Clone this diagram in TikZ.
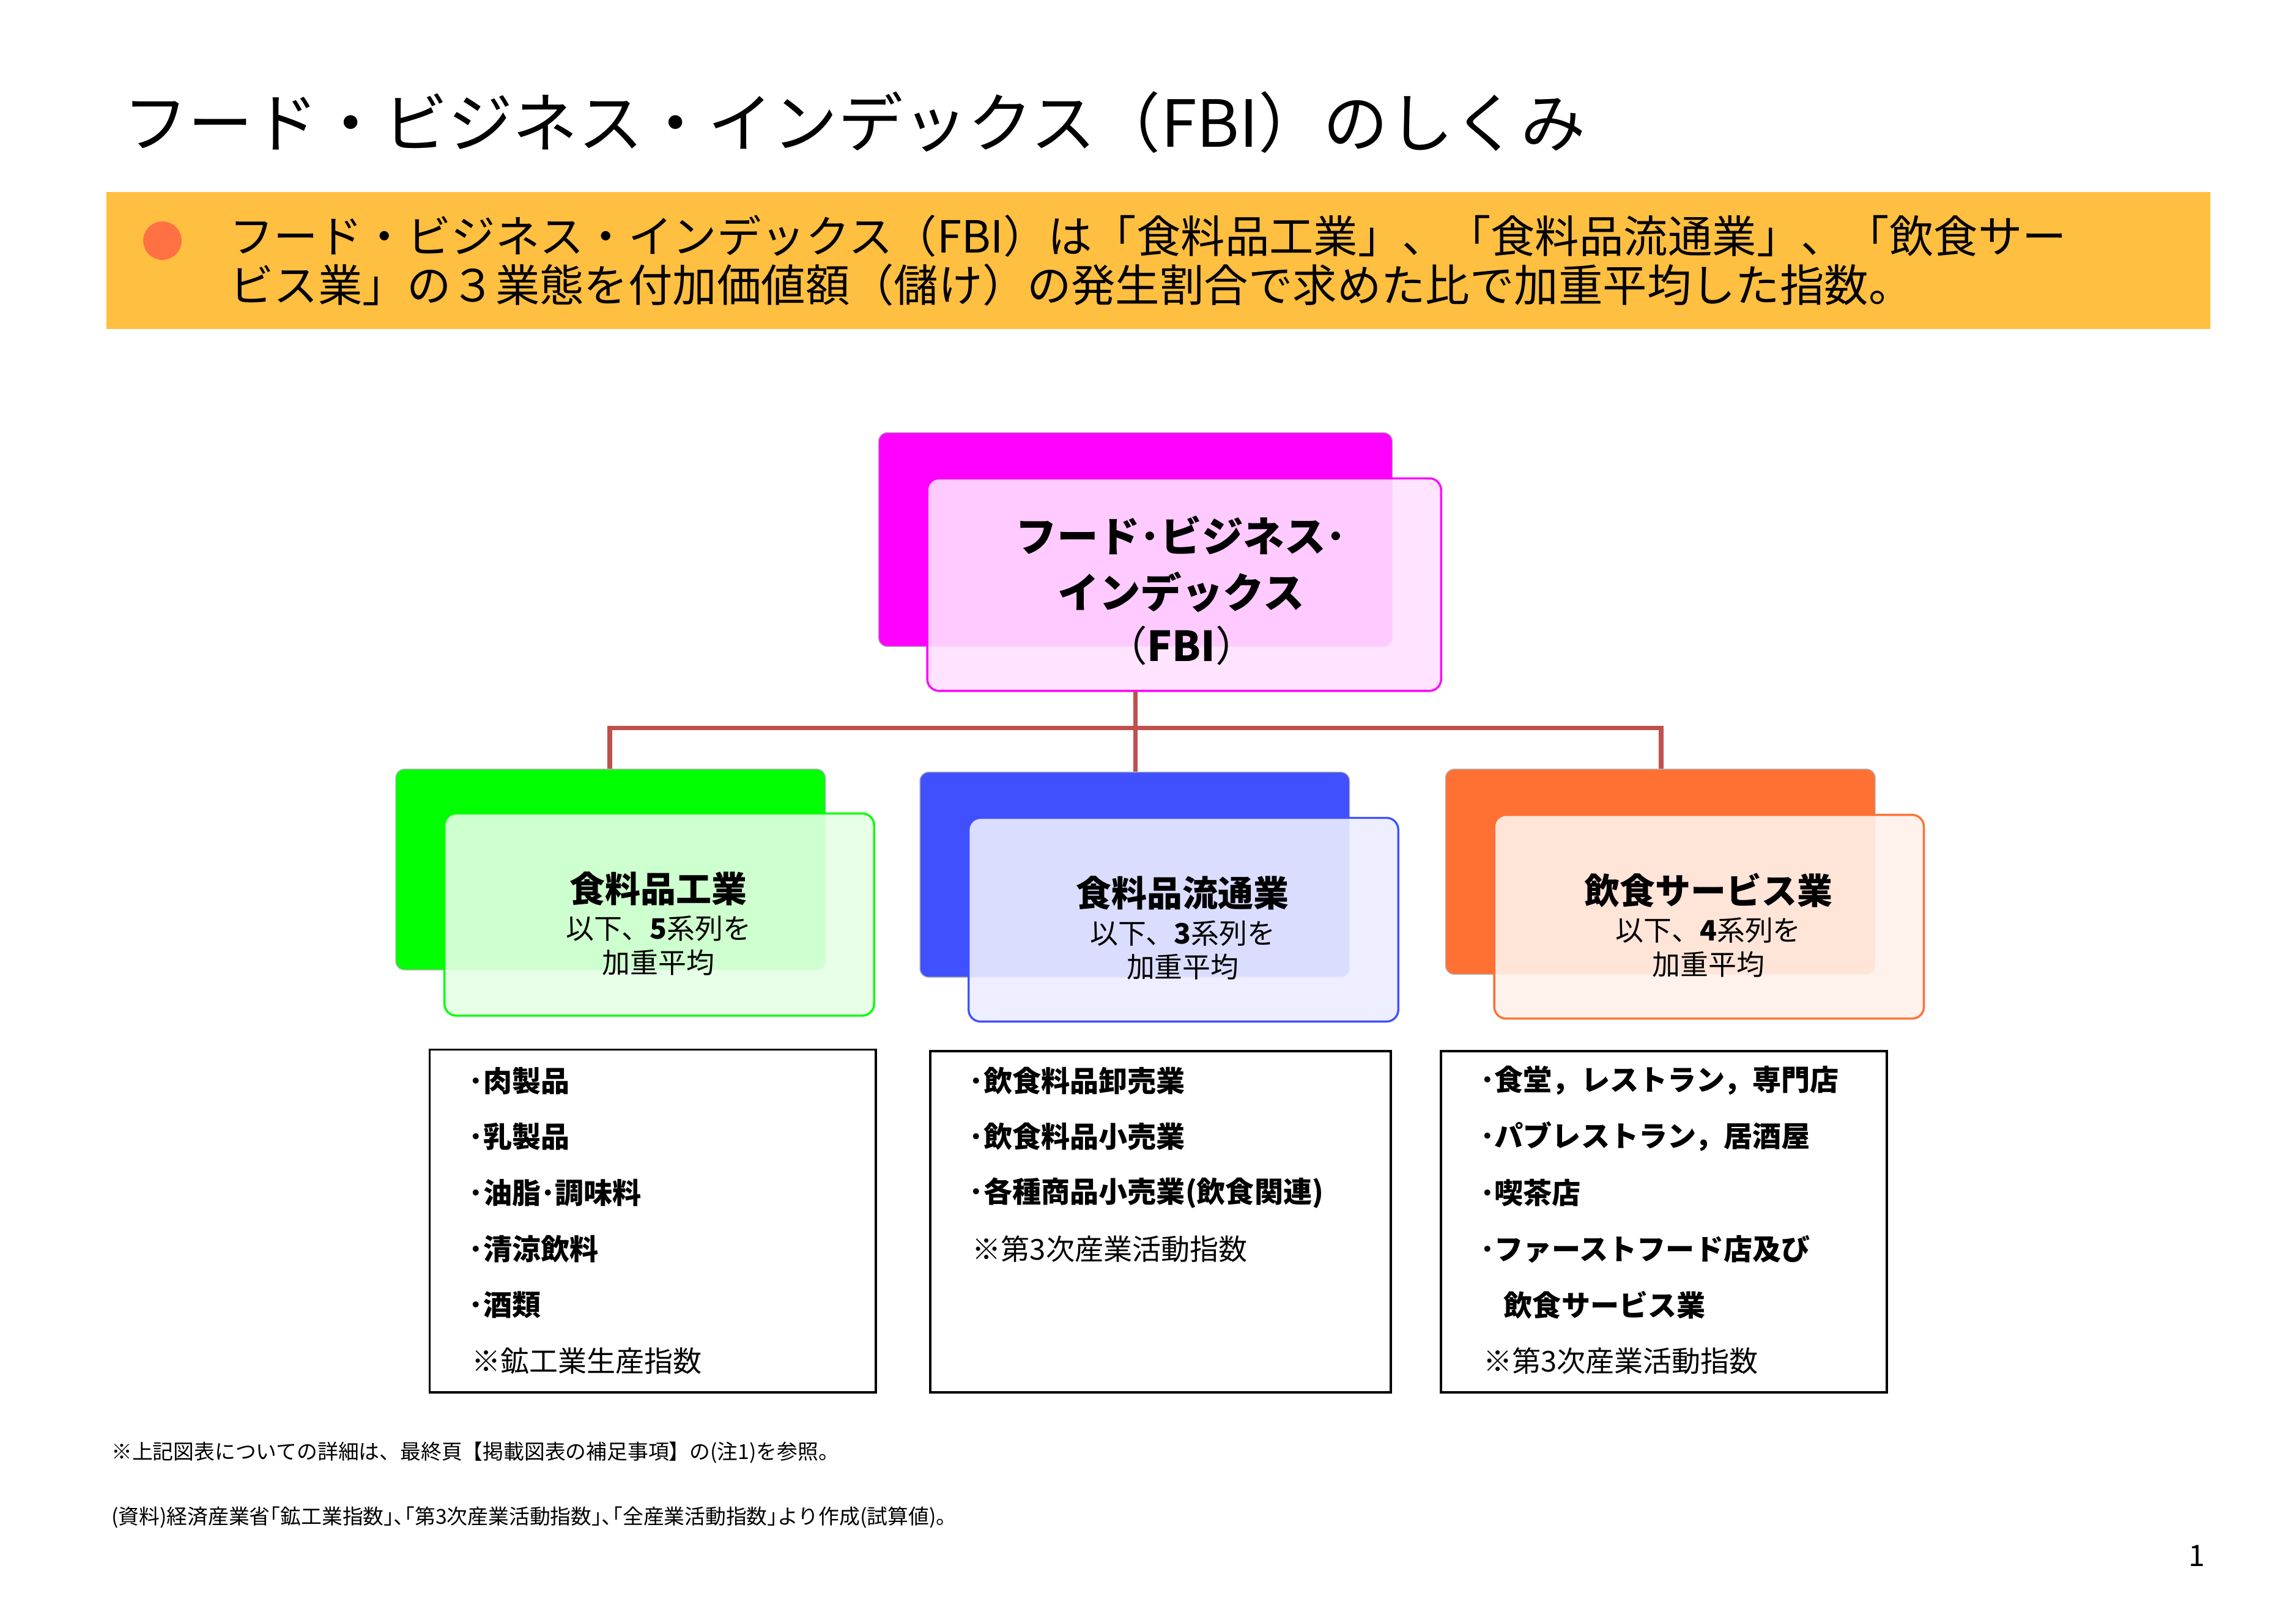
\documentclass[tikz,border=0pt]{standalone}
\usepackage{fontspec}
\setmainfont{Noto Sans CJK JP}
\usetikzlibrary{positioning, calc}
\definecolor{bandorange}{HTML}{FFBF40}
\definecolor{dotorange}{HTML}{FF7043}
\definecolor{linkred}{HTML}{C0504D}
\definecolor{fbimag}{HTML}{FF00FF}
\definecolor{makegreen}{HTML}{00FF00}
\definecolor{distblue}{HTML}{4050FF}
\definecolor{servorange}{HTML}{FF7033}
\begin{document}
\begin{tikzpicture}[x=1pt, y=-1pt,
        backbox/.style={rounded corners=6pt, draw=gray!60, line width=0.6pt},
        frontbox/.style={rounded corners=8pt, line width=1.4pt},
        headtxt/.style={font=\fontsize{24}{28}\selectfont\bfseries, align=center},
        subtxt/.style={font=\fontsize{19}{23}\selectfont, align=center},
        listbox/.style={draw=black, line width=1.6pt},
        item/.style={anchor=west, font=\fontsize{19.5}{22}\selectfont\bfseries},
        note/.style={anchor=west, font=\fontsize{14}{16}\selectfont}
    ]
        \useasboundingbox (0,0) rectangle (1555,1096);
        \fill[white] (0,0) rectangle (1555,1096);

        % title and band
        \node[anchor=west, font=\fontsize{44}{50}\selectfont] (title) at (80,83) {フード・ビジネス・インデックス（FBI）のしくみ};
        \fill[bandorange] (72,130) rectangle (1497,223);
        \fill[dotorange] (110,163) circle (13);
        \node[anchor=west, font=\fontsize{30}{34}\selectfont] (band1) at (152,160) {フード・ビジネス・インデックス（FBI）は「食料品工業」、「食料品流通業」、「飲食サー};
        \node[anchor=west, font=\fontsize{30}{34}\selectfont] (band2) at (152,193) {ビス業」の３業態を付加価値額（儲け）の発生割合で求めた比で加重平均した指数。};

        % top box
        \fill[fbimag, backbox] (595,293) rectangle (943,438);
        \filldraw[fill=fbimag!12, fill opacity=0.9, draw=fbimag, frontbox] (628,324) rectangle (976,468);
        \coordinate (fbi-s) at (769,468);
        \node[headtxt, font=\fontsize{28}{34}\selectfont\bfseries] (fbi) at (800,400) {フード･ビジネス･\\[4pt]インデックス\\[2pt]\mdseries（\textbf{FBI}）};

        % connectors
        \coordinate (bus) at (769,493);
        \coordinate (make-n) at (413,521);
        \coordinate (dist-n) at (769,523);
        \coordinate (serv-n) at (1125,521);
        \draw[linkred, line width=3pt] (fbi-s) -- (bus);
        \draw[linkred, line width=3pt] (make-n) |- (bus) -| (serv-n);
        \draw[linkred, line width=3pt] (bus) -- (dist-n);

        % three boxes
        \fill[makegreen, backbox] (268,521) rectangle (559,657);
        \filldraw[fill=makegreen!10, fill opacity=0.9, draw=makegreen, frontbox] (301,551) rectangle (592,688);
        \node[headtxt] (make) at (446,602) {食料品工業};
        \node[subtxt, below=0pt of make] (make-sub) {以下、\textbf{5}系列を\\加重平均};

        \fill[distblue, backbox] (623,523) rectangle (914,662);
        \filldraw[fill=distblue!10, fill opacity=0.9, draw=distblue, frontbox] (656,554) rectangle (947,692);
        \node[headtxt] (dist) at (801,605) {食料品流通業};
        \node[subtxt, below=0pt of dist] (dist-sub) {以下、\textbf{3}系列を\\加重平均};

        \fill[servorange, backbox] (979,521) rectangle (1270,660);
        \filldraw[fill=servorange!10, fill opacity=0.9, draw=servorange, frontbox] (1012,552) rectangle (1303,690);
        \node[headtxt] (serv) at (1157,603) {飲食サービス業};
        \node[subtxt, below=0pt of serv] (serv-sub) {以下、\textbf{4}系列を\\加重平均};

        % lists
        \draw[listbox] (291,711) rectangle (593,943);
        \node[item] (m1) at (314,732) {･肉製品};
        \node[item] (m2) at (314,770) {･乳製品};
        \node[item] (m3) at (314,808) {･油脂･調味料};
        \node[item] (m4) at (314,846) {･清涼飲料};
        \node[item] (m5) at (314,884) {･酒類};
        \node[item, font=\fontsize{19.5}{22}\selectfont] (m6) at (316,922) {※鉱工業生産指数};

        \draw[listbox] (630,712) rectangle (942,943);
        \node[item] (d1) at (653,732) {･飲食料品卸売業};
        \node[item] (d2) at (653,770) {･飲食料品小売業};
        \node[item] (d3) at (653,808) {･各種商品小売業(飲食関連)};
        \node[item, font=\fontsize{19.5}{22}\selectfont] (d4) at (655,846) {※第3次産業活動指数};

        \draw[listbox] (976,712) rectangle (1278,943);
        \node[item] (s1) at (999,732) {･食堂，レストラン，専門店};
        \node[item] (s2) at (999,770) {･パブレストラン，居酒屋};
        \node[item] (s3) at (999,808) {･喫茶店};
        \node[item] (s4) at (999,846) {･ファーストフード店及び};
        \node[item] (s5) at (1015,884) {飲食サービス業};
        \node[item, font=\fontsize{19.5}{22}\selectfont] (s6) at (1001,922) {※第3次産業活動指数};

        % notes
        \node[note] (note1) at (72,984) {※上記図表についての詳細は、最終頁【掲載図表の補足事項】の(注1)を参照。};
        \node[note] (note2) at (72,1028) {(資料)経済産業省｢鉱工業指数｣､｢第3次産業活動指数｣､｢全産業活動指数｣より作成(試算値)。};
        \node[font=\fontsize{20}{22}\selectfont] (page) at (1488,1054) {1};
    \end{tikzpicture}
\end{document}
